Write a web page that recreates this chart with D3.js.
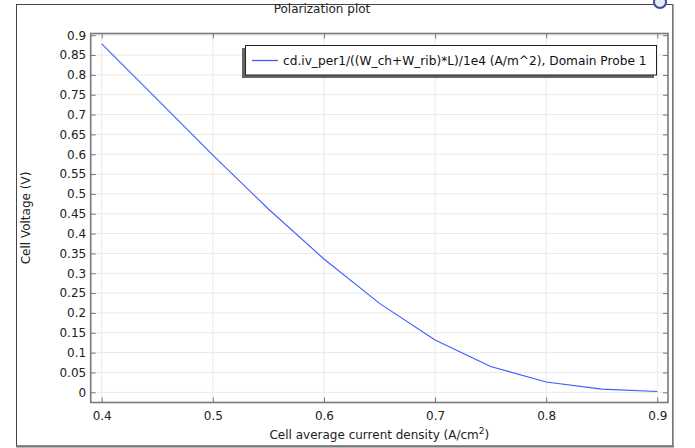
<!DOCTYPE html>
<html>
<head>
<meta charset="utf-8">
<script src="https://cdn.jsdelivr.net/npm/d3@7"></script>
<style>
  html, body { margin: 0; padding: 0; background: #fff; }
  svg { display: block; font-family: "DejaVu Sans", sans-serif; }
</style>
</head>
<body>
<svg id="chart" width="695" height="448"></svg>
<script>
// ---- data ----
const currentDensity = [0.4, 0.45, 0.5, 0.55, 0.6, 0.65, 0.7, 0.75, 0.8, 0.85, 0.9];
const cellVoltage    = [0.878, 0.738, 0.598, 0.462, 0.336, 0.224, 0.132, 0.065, 0.026, 0.008, 0.002];
const xTicks = [0.4, 0.5, 0.6, 0.7, 0.8, 0.9];
const yTicks = [0, 0.05, 0.1, 0.15, 0.2, 0.25, 0.3, 0.35, 0.4, 0.45, 0.5, 0.55, 0.6, 0.65, 0.7, 0.75, 0.8, 0.85, 0.9];
const titleText = "Polarization plot";
const legendLabel = "cd.iv_per1/((W_ch+W_rib)*L)/1e4 (A/m^2), Domain Probe 1";
const xTitle = "Cell average current density (A/cm";
const yTitle = "Cell Voltage (V)";

const svg = d3.select("#chart");
const plot = {left: 90.7, right: 668, top: 33.5, bottom: 402.5};

const x = d3.scaleLinear().domain([0.3901, 0.9096]).range([plot.left, plot.right]);
const y = d3.scaleLinear().domain([-0.0257, 0.9043]).range([plot.bottom, plot.top]);

// outer frame
svg.append("rect").attr("x", 16.5).attr("y", 4.5).attr("width", 656).attr("height", 441.5)
  .attr("fill", "#fff").attr("stroke", "#444").attr("stroke-width", 1);
svg.append("line").attr("x1", 673).attr("x2", 673).attr("y1", 4).attr("y2", 447)
  .attr("stroke", "#888").attr("stroke-width", 1.5);
svg.append("line").attr("x1", 16).attr("x2", 674).attr("y1", 446.5).attr("y2", 446.5)
  .attr("stroke", "#777").attr("stroke-width", 2);

// small icon at top right (clipped)
svg.append("clipPath").attr("id", "iconClip").append("rect")
  .attr("x", 640).attr("y", 0).attr("width", 40).attr("height", 12);
const ig = svg.append("g").attr("clip-path", "url(#iconClip)");
ig.append("circle").attr("cx", 660).attr("cy", 2).attr("r", 6)
  .attr("fill", "#e8ecf4").attr("stroke", "#3b4f9a").attr("stroke-width", 2);

// title
svg.append("text").attr("x", 322).attr("y", 13).attr("text-anchor", "middle")
  .attr("font-size", 12).attr("fill", "#222").text(titleText);

// grid
const grid = svg.append("g");
grid.selectAll(".gx").data(xTicks).join("line")
  .attr("x1", d => x(d)).attr("x2", d => x(d))
  .attr("y1", plot.top).attr("y2", plot.bottom)
  .attr("stroke", "#e9e9e9").attr("stroke-width", 1);
grid.selectAll(".gy").data(yTicks).join("line")
  .attr("x1", plot.left).attr("x2", plot.right)
  .attr("y1", d => y(d)).attr("y2", d => y(d))
  .attr("stroke", "#e9e9e9").attr("stroke-width", 1);

// series line
const line = d3.line().x((d, i) => x(currentDensity[i])).y(d => y(d));
svg.append("path").datum(cellVoltage)
  .attr("d", line).attr("fill", "none")
  .attr("stroke", "#3d5cff").attr("stroke-width", 1.1);

// axes
function styleAxis(g) {
  g.select(".domain").remove();
  g.selectAll(".tick line").attr("stroke", "#777").attr("stroke-width", 1);
  g.selectAll(".tick text").attr("fill", "#222").attr("font-size", 12)
    .attr("font-family", "DejaVu Sans, sans-serif");
}
const fmt = d => d3.format("")(+d.toFixed(2));

svg.append("g").attr("transform", `translate(0,${plot.bottom})`)
  .call(d3.axisBottom(x).tickValues(xTicks).tickFormat(fmt).tickSizeInner(-5).tickSizeOuter(0).tickPadding(9))
  .call(styleAxis);
svg.append("g").attr("transform", `translate(0,${plot.top})`)
  .call(d3.axisTop(x).tickValues(xTicks).tickFormat("").tickSizeInner(-5).tickSizeOuter(0))
  .call(styleAxis);
svg.append("g").attr("transform", `translate(${plot.left},0)`)
  .call(d3.axisLeft(y).tickValues(yTicks).tickFormat(fmt).tickSizeInner(-5).tickSizeOuter(0).tickPadding(4.5))
  .call(styleAxis);
svg.append("g").attr("transform", `translate(${plot.right},0)`)
  .call(d3.axisRight(y).tickValues(yTicks).tickFormat("").tickSizeInner(-5).tickSizeOuter(0))
  .call(styleAxis);

// plot frame
svg.append("rect").attr("x", plot.left).attr("y", plot.top)
  .attr("width", plot.right - plot.left).attr("height", plot.bottom - plot.top)
  .attr("fill", "none").attr("stroke", "#7a7a7a").attr("stroke-width", 1.6);

// legend
const lg = svg.append("g");
lg.append("rect").attr("x", 242).attr("y", 48).attr("width", 412).attr("height", 30)
  .attr("fill", "#666");
lg.append("rect").attr("x", 245.5).attr("y", 45.5).attr("width", 411).attr("height", 29.5)
  .attr("fill", "#fff").attr("stroke", "#222").attr("stroke-width", 1);
lg.append("line").attr("x1", 252).attr("x2", 278).attr("y1", 60.5).attr("y2", 60.5)
  .attr("stroke", "#3d5cff").attr("stroke-width", 1.3);
const lt = lg.append("text").attr("x", 283).attr("y", 65).attr("font-size", 12)
  .attr("fill", "#111").text(legendLabel);
const w = lt.node().getComputedTextLength();
if (w > 0) lt.attr("font-size", 12 * 364 / w);

// axis titles
const xt = svg.append("text").attr("x", (plot.left + plot.right) / 2).attr("y", 439)
  .attr("text-anchor", "middle").attr("font-size", 12).attr("fill", "#222");
xt.append("tspan").text(xTitle);
xt.append("tspan").attr("dy", -5).attr("font-size", 9).text("2");
xt.append("tspan").attr("dy", 5).text(")");

svg.append("text").attr("transform", `translate(30,${(plot.top + plot.bottom) / 2}) rotate(-90)`)
  .attr("text-anchor", "middle").attr("font-size", 12).attr("fill", "#222").text(yTitle);
</script>
</body>
</html>
